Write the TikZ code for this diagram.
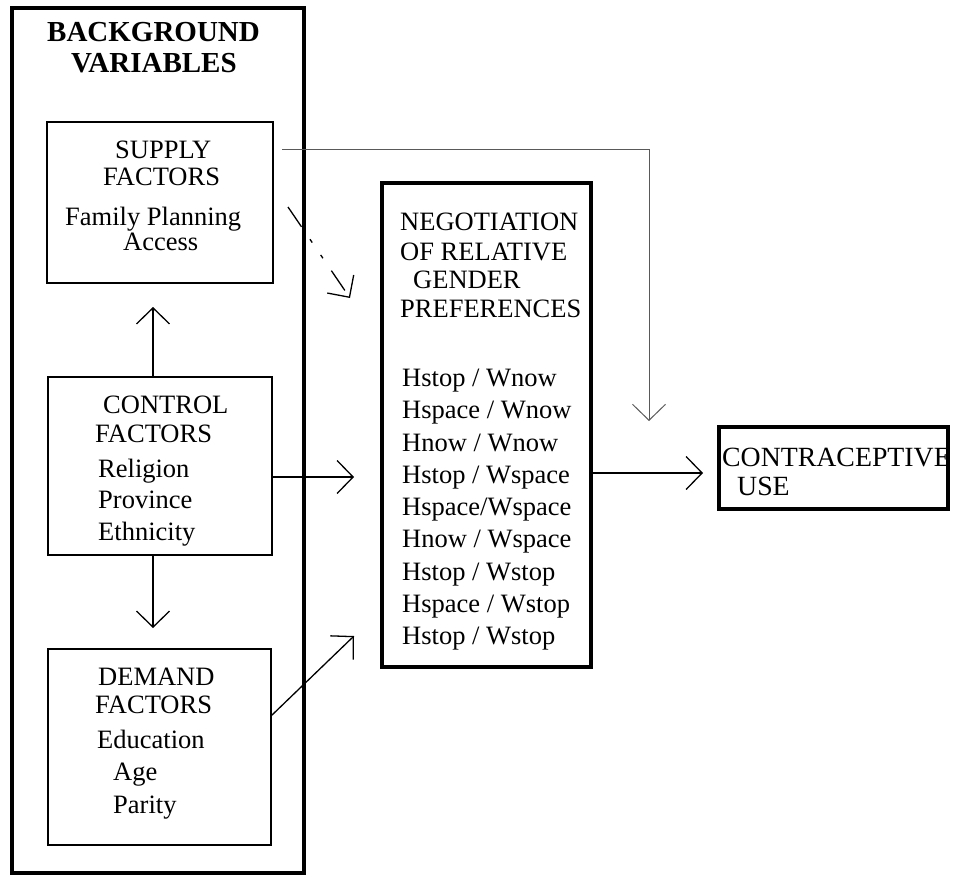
\documentclass[tikz,border=0pt]{standalone}
\usepackage{fontspec}
\setmainfont{Liberation Serif}
\usetikzlibrary{arrows.meta,calc}
\tikzset{
  box/.style={draw, rectangle, inner sep=0pt, outer sep=0pt, line width=1.5pt},
  thickbox/.style={draw, rectangle, inner sep=0pt, outer sep=0pt, line width=4.5pt},
  txt/.style={anchor=base west, inner sep=0pt, font=\fontsize{26.5}{30}\selectfont},
  bigtxt/.style={anchor=base west, inner sep=0pt, font=\fontsize{27.8}{30}\selectfont},
  ttl/.style={anchor=base west, inner sep=0pt, font=\fontsize{29}{32}\selectfont\bfseries},
  arr/.style={line width=1.3pt, -{Straight Barb[length=16pt,width=33pt,line width=1.3pt]}},
  garr/.style={line width=1pt, black!65, -{Straight Barb[length=16pt,width=33pt,line width=1pt]}},
  darr/.style={line width=1.3pt, dash pattern=on 24pt off 15pt on 4pt off 15pt on 4pt off 15pt,
    -{Straight Barb[length=16pt,width=32pt,line width=1.3pt]}}
}
\begin{document}
\begin{tikzpicture}[x=1pt,y=-1pt]
\useasboundingbox (0,0) rectangle (954,875);
% boxes
\node[thickbox, minimum width=292pt, minimum height=865pt] (outer) at (158,440.5) {};
\node[box, minimum width=226pt, minimum height=161pt] (sup) at (160,202.5) {};
\node[box, minimum width=224pt, minimum height=178pt] (ctrl) at (160,466) {};
\node[box, minimum width=223pt, minimum height=196pt] (dem) at (159.5,747) {};
\node[thickbox, minimum width=209pt, minimum height=484pt] (neg) at (486.5,425) {};
\node[thickbox, minimum width=229pt, minimum height=82pt] (con) at (833.5,468) {};
% title
\node[ttl] (t1) at (47,42) {BACKGROUND};
\node[ttl] (t2) at (71,73) {VARIABLES};
% supply
\node[txt] (s1) at (115,158) {SUPPLY};
\node[txt] (s2) at (103,185) {FACTORS};
\node[txt] (s3) at (65,225) {Family Planning};
\node[txt] (s4) at (123,250) {Access};
% control
\node[txt] (c1) at (103,413) {CONTROL};
\node[txt] (c2) at (95,442) {FACTORS};
\node[txt] (c3) at (98,477) {Religion};
\node[txt] (c4) at (98,508) {Province};
\node[txt] (c5) at (98,540) {Ethnicity};
% demand
\node[txt] (d1) at (98,685) {DEMAND};
\node[txt] (d2) at (95,713) {FACTORS};
\node[txt] (d3) at (97,748) {Education};
\node[txt] (d4) at (113,780) {Age};
\node[txt] (d5) at (113,813) {Parity};
% negotiation
\node[txt] (n1) at (400,230) {NEGOTIATION};
\node[txt] (n2) at (400,260) {OF RELATIVE};
\node[txt] (n3) at (413,288) {GENDER};
\node[txt] (n4) at (400,317) {PREFERENCES};
\node[txt] (l1) at (402,386) {Hstop / Wnow};
\node[txt] (l2) at (402,418) {Hspace / Wnow};
\node[txt] (l3) at (402,451) {Hnow / Wnow};
\node[txt] (l4) at (402,483) {Hstop / Wspace};
\node[txt] (l5) at (402,515) {Hspace/Wspace};
\node[txt] (l6) at (402,547) {Hnow / Wspace};
\node[txt] (l7) at (402,580) {Hstop / Wstop};
\node[txt] (l8) at (402,612) {Hspace / Wstop};
\node[txt] (l9) at (402,644) {Hstop / Wstop};
% contraceptive
\node[bigtxt] (k1) at (722,466) {CONTRACEPTIVE};
\node[bigtxt] (k2) at (737,495) {USE};
% connector end points
\coordinate (upTip) at (153,307);
\coordinate (dnTip) at (153,628);
\coordinate (cTip) at (354,477);
\coordinate (dS) at (271,716);
\coordinate (dTip) at (354,636);
\coordinate (gS) at (282,149);
\coordinate (gC) at (649,149);
\coordinate (gTip) at (649,421);
\coordinate (xS) at (288,207);
\coordinate (xTip) at (350,298);
\coordinate (oTip) at (703,473);
% connectors
\draw[arr] (ctrl.north -| upTip) -- (upTip);
\draw[arr] (ctrl.south -| dnTip) -- (dnTip);
\draw[arr] (ctrl.east |- cTip) -- (cTip);
\draw[arr] (dem.east |- dS) -- (dTip);
\draw[garr] (gS) -- (gC) -- (gTip);
\draw[darr] (xS) -- (xTip);
\draw[arr] (neg.east |- oTip) -- (oTip);
\end{tikzpicture}
\end{document}
